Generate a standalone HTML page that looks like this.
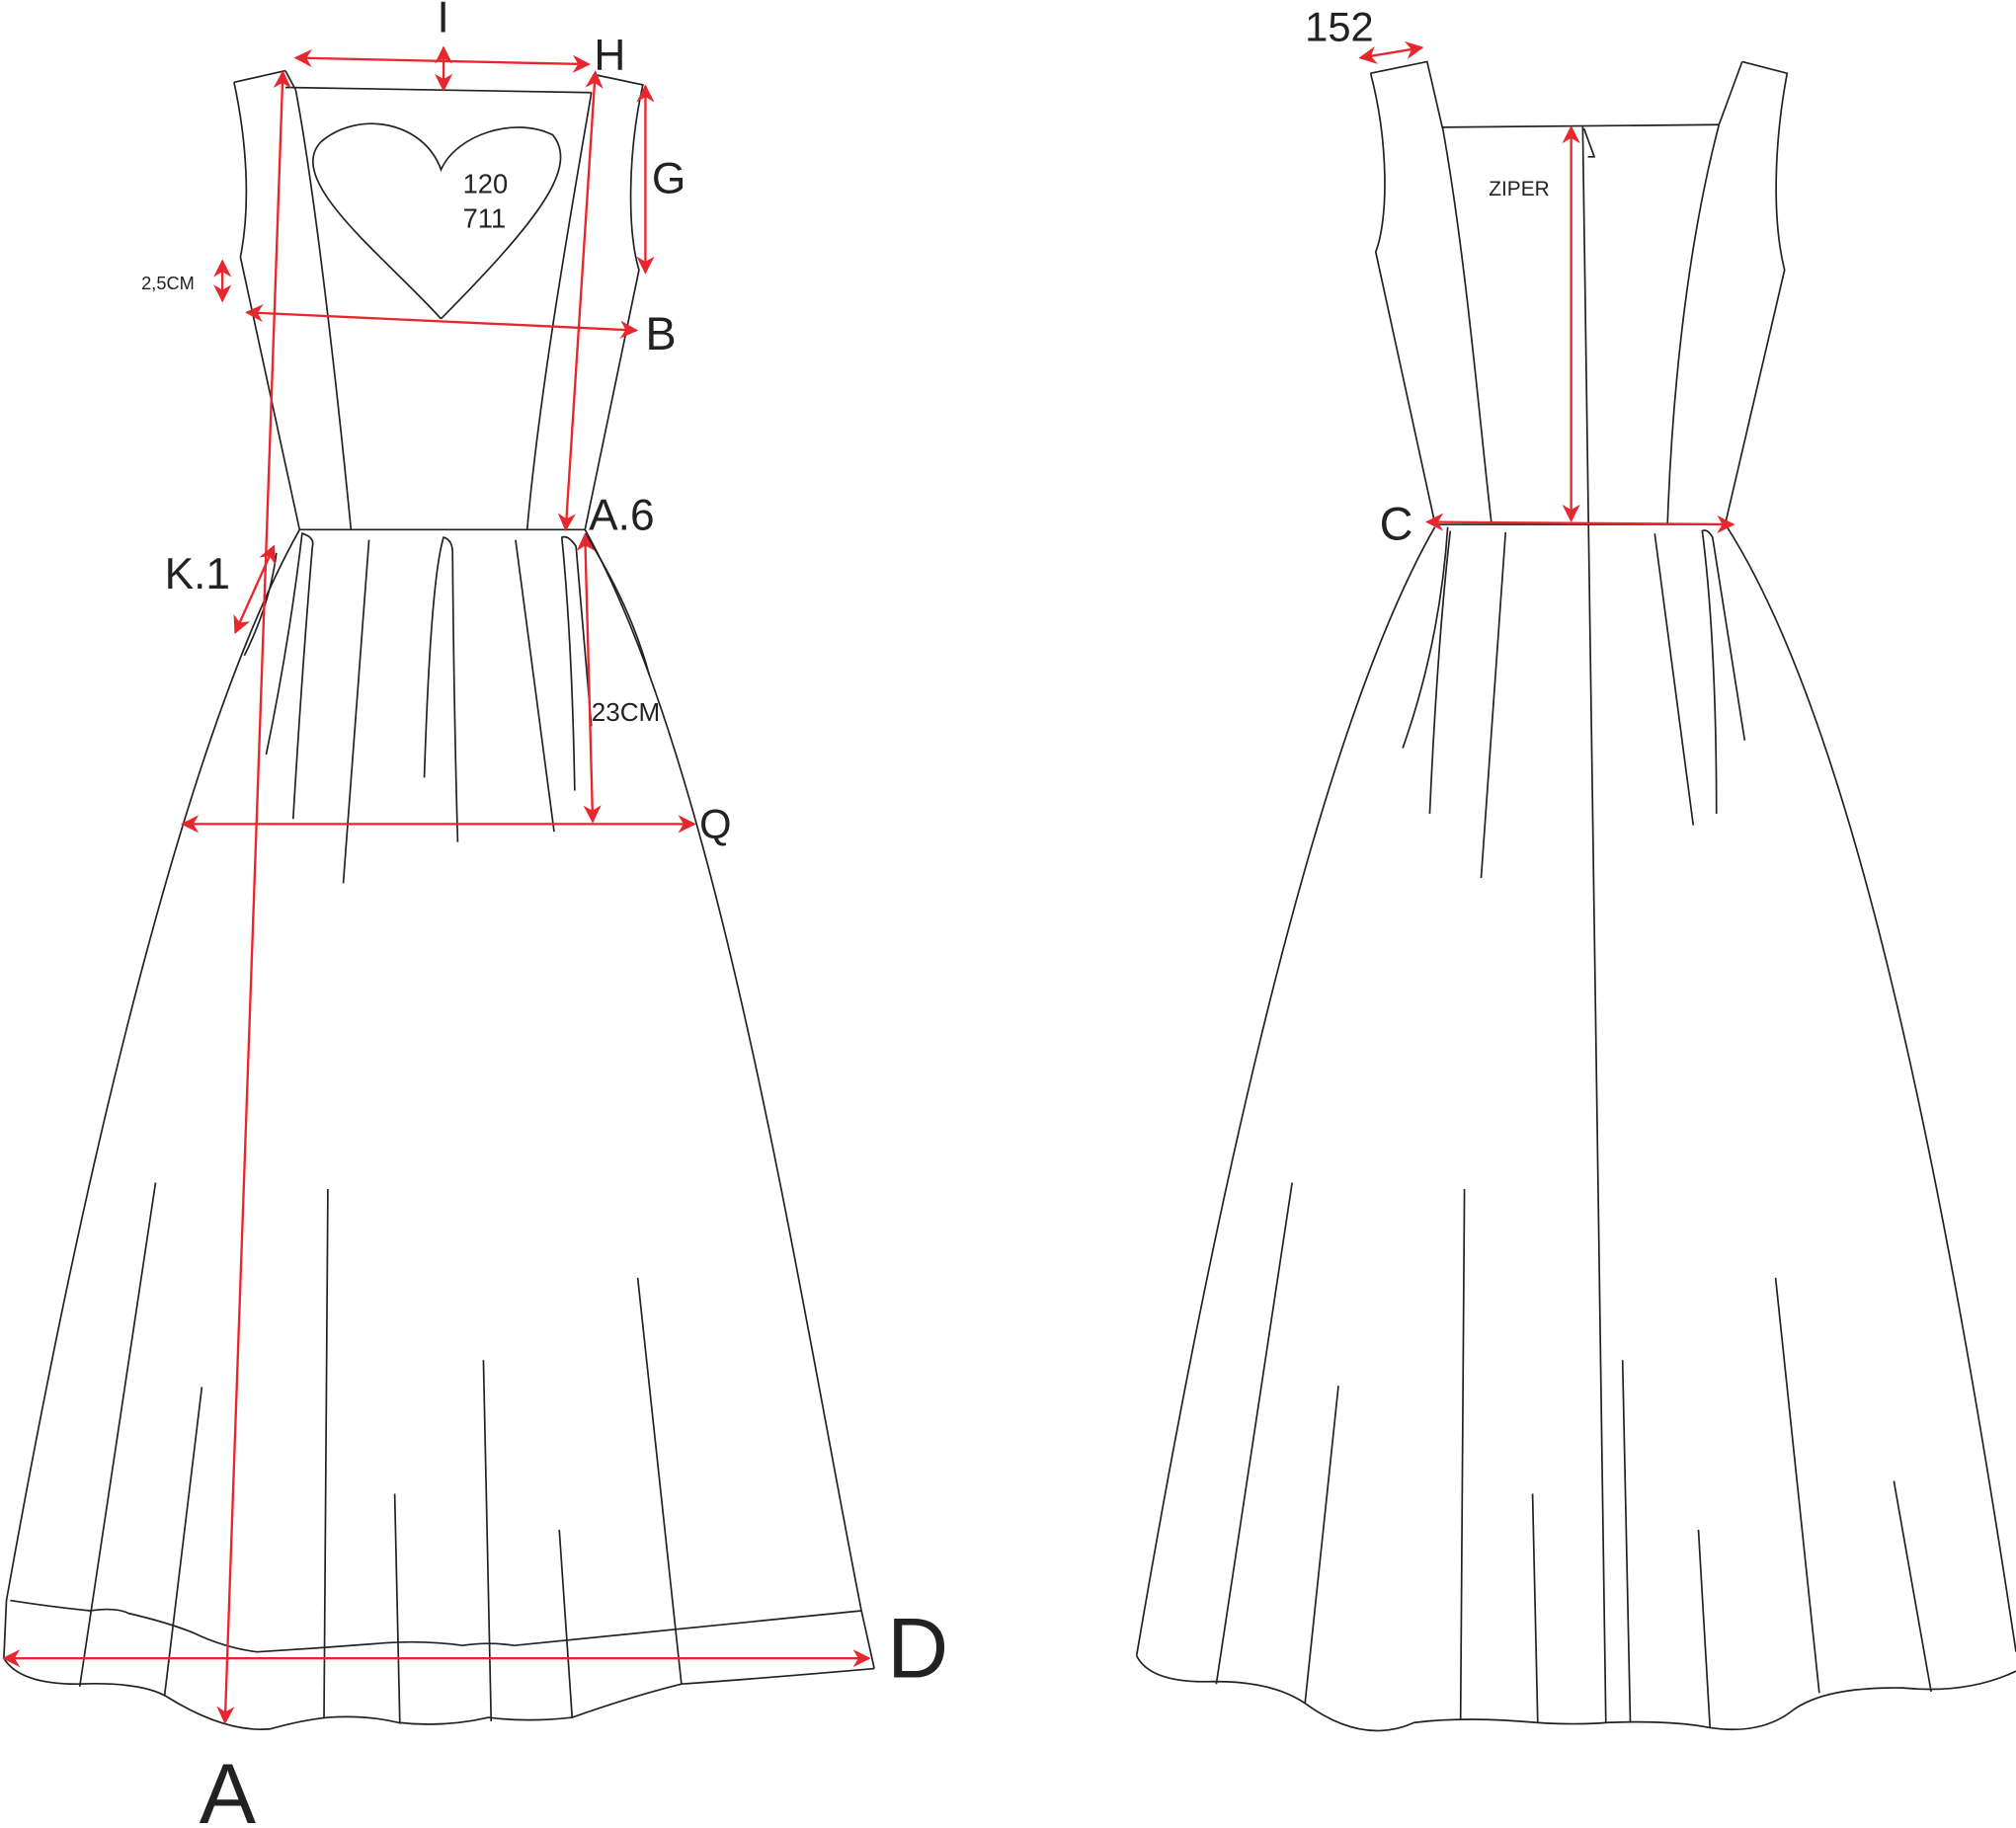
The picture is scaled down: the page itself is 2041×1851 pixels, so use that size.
<!DOCTYPE html>
<html><head><meta charset="utf-8"><style>html,body{margin:0;padding:0;background:#fff}svg{display:block}</style></head>
<body>
<svg width="2041" height="1851" viewBox="0 0 1568 1422" preserveAspectRatio="none" xmlns="http://www.w3.org/2000/svg">
<defs>
<marker id="ah2" viewBox="0 0 10 10" refX="9" refY="5" markerWidth="14" markerHeight="14" orient="auto-start-reverse" markerUnits="userSpaceOnUse">
<path d="M0,0 L10,5 L0,10 L3,5 z" fill="#e8262d"/></marker>
</defs>
<g fill="none" stroke="#222" stroke-width="1.3">
<!-- FRONT -->
<path d="M182,64 L222,55"/>
<path d="M182,64 C192,110 195,160 187,200 L233,412"/>
<path d="M222,68 L460,72"/>
<path d="M230,70 C245,150 262,300 273,412"/>
<path d="M460,72 C445,160 420,300 410,412"/>
<path d="M462,58 L500,66 C488,120 488,180 497,210 L455,412"/>
<path d="M222,55 L230,70"/>
<path d="M233,412 L455,412"/>
<path d="M343,248 C300,200 220,140 250,110 C280,85 330,95 343,132 C355,105 400,90 430,105 C450,130 420,170 343,248"/>
<path d="M233,412 C150,560 70,880 5,1245 L3,1290"/>
<path d="M455,412 C560,600 620,1000 670,1253 L680,1298"/>
<path d="M3,1290 Q15,1310 60,1310 Q110,1308 130,1320 Q175,1348 210,1345 Q235,1338 255,1336 Q285,1334 310,1340 Q345,1344 380,1336 Q410,1340 445,1336 Q490,1320 530,1310 Q600,1305 680,1298"/>
<path d="M8,1245 Q40,1250 70,1253 Q90,1250 100,1255 Q130,1262 150,1270 Q175,1282 200,1285 Q250,1282 300,1278 Q330,1276 360,1280 Q380,1277 400,1280 L670,1253"/>
<path d="M190,510 Q210,470 215,430"/>
<path d="M455,415 Q490,470 505,525"/>
<path d="M207,587 Q225,500 235,415 Q245,418 243,425 Q235,520 228,637"/>
<path d="M287,420 L267,687"/>
<path d="M330,605 Q335,450 345,418 Q352,420 352,430 Q353,550 356,655"/>
<path d="M401,420 L431,647"/>
<path d="M447,615 Q445,500 437,418 Q442,416 448,425 Q455,510 460,565"/>
<path d="M121,920 L62,1312"/>
<path d="M157,1079 L128,1319"/>
<path d="M255,925 L252,1336"/>
<path d="M307,1162 L311,1341"/>
<path d="M376,1058 L382,1339"/>
<path d="M435,1190 L445,1336"/>
<path d="M496,994 L530,1310"/>
<!-- BACK -->
<path d="M1066,57 L1110,48 L1122,100"/>
<path d="M1066,57 C1080,110 1080,170 1070,196 L1116,407"/>
<path d="M1122,99 C1140,200 1150,320 1160,407"/>
<path d="M1122,99 L1337,97"/>
<path d="M1355,48 L1390,57 C1380,110 1378,170 1388,210 L1342,407"/>
<path d="M1355,48 L1337,97 C1310,200 1300,320 1297,407"/>
<path d="M1116,408 L1342,408"/>
<path d="M1116,410 C1030,560 950,900 884,1288"/>
<path d="M1342,408 C1440,560 1510,900 1568,1285"/>
<path d="M884,1288 Q895,1310 945,1308 Q990,1308 1015,1325 Q1060,1358 1100,1340 Q1140,1335 1195,1340 Q1225,1342 1250,1340 Q1300,1338 1330,1344 Q1370,1350 1395,1330 Q1420,1312 1480,1313 Q1530,1318 1568,1300"/>
<path d="M1231,98 L1249,1340"/>
<path d="M1232,100 L1240,122 L1235,122"/>
<path d="M1126,410 Q1120,500 1091,582"/>
<path d="M1112,633 Q1118,500 1128,413"/>
<path d="M1171,414 L1152,683"/>
<path d="M1287,415 L1317,642"/>
<path d="M1335,633 Q1335,500 1324,413 Q1328,411 1332,418 Q1345,500 1357,576"/>
<path d="M1005,920 L946,1310"/>
<path d="M1041,1078 L1015,1325"/>
<path d="M1139,925 L1136,1338"/>
<path d="M1192,1162 L1196,1340"/>
<path d="M1262,1058 L1268,1340"/>
<path d="M1321,1190 L1330,1344"/>
<path d="M1381,994 L1415,1317"/>
<path d="M1473,1152 L1502,1316"/>
</g>
<g stroke="#e8262d" stroke-width="1.8" fill="none" marker-start="url(#ah2)" marker-end="url(#ah2)">
<line x1="230" y1="45" x2="458" y2="50"/>
<line x1="345" y1="37" x2="345" y2="70"/>
<line x1="502" y1="67" x2="502" y2="212"/>
<line x1="173" y1="203" x2="173" y2="234"/>
<line x1="192" y1="243" x2="495" y2="257"/>
<line x1="463" y1="56" x2="440" y2="412"/>
<line x1="220" y1="56" x2="175" y2="1340"/>
<line x1="183" y1="492" x2="213" y2="425"/>
<line x1="455" y1="416" x2="461" y2="639"/>
<line x1="142" y1="641" x2="540" y2="641"/>
<line x1="3" y1="1290" x2="676" y2="1290"/>
<line x1="1058" y1="45" x2="1106" y2="37"/>
<line x1="1222" y1="99" x2="1222" y2="405"/>
<line x1="1110" y1="406" x2="1348" y2="408"/>
</g>
<g font-family="Liberation Sans, sans-serif" fill="#222">
<text x="340" y="25" font-size="34">I</text>
<text x="462" y="54" font-size="34">H</text>
<text x="507" y="150" font-size="34">G</text>
<text x="502" y="272" font-size="36">B</text>
<text x="110" y="225" font-size="14">2,5CM</text>
<text x="360" y="150" font-size="21">120</text>
<text x="360" y="177" font-size="21">711</text>
<text x="458" y="412" font-size="34">A.6</text>
<text x="128" y="458" font-size="34">K.1</text>
<text x="460" y="561" font-size="20">23CM</text>
<text x="544" y="652" font-size="32">Q</text>
<text x="690" y="1305" font-size="66">D</text>
<text x="155" y="1418" font-size="66">A</text>
<text x="1015" y="32" font-size="32">152</text>
<text x="1158" y="152" font-size="16">ZIPER</text>
<text x="1073" y="420" font-size="36">C</text>
</g>
</svg>
</body></html>
